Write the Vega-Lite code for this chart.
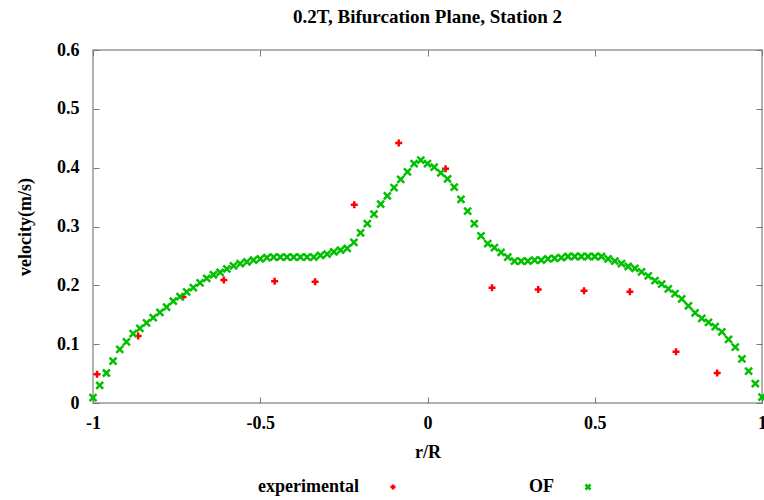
{
  "$schema": "https://vega.github.io/schema/vega-lite/v6.json",
  "width": 669,
  "height": 353,
  "autosize": {"type": "none"},
  "padding": {"left": 93, "top": 50, "right": 2, "bottom": 97},
  "background": "white",
  "title": {"text": "0.2T, Bifurcation Plane, Station 2", "fontSize": 19, "font": "Liberation Serif", "fontWeight": "bold", "color": "black", "offset": 14},
  "config": {
    "font": "Liberation Serif",
    "view": {"stroke": "#999999", "strokeWidth": 1.5},
    "axis": {"grid": false, "domain": false, "labelFlush": false, "tickColor": "#777777", "tickSize": -6, "labelFont": "Liberation Serif", "labelFontWeight": "bold", "labelFontSize": 18, "labelColor": "black", "titleFont": "Liberation Serif", "titleFontWeight": "bold", "titleFontSize": 18, "titleColor": "black"}
  },
  "data": {"values": [
    {"s":"experimental","r":-0.988,"v":0.049},{"s":"experimental","r":-0.865,"v":0.114},{"s":"experimental","r":-0.731,"v":0.180},{"s":"experimental","r":-0.609,"v":0.209},{"s":"experimental","r":-0.457,"v":0.207},{"s":"experimental","r":-0.336,"v":0.206},{"s":"experimental","r":-0.219,"v":0.337},{"s":"experimental","r":-0.086,"v":0.442},{"s":"experimental","r":0.054,"v":0.398},{"s":"experimental","r":0.193,"v":0.196},{"s":"experimental","r":0.331,"v":0.193},{"s":"experimental","r":0.468,"v":0.191},{"s":"experimental","r":0.605,"v":0.189},{"s":"experimental","r":0.743,"v":0.087},{"s":"experimental","r":0.866,"v":0.051},
    {"s":"OF","r":-1.00,"v":0.009},{"s":"OF","r":-0.98,"v":0.030},{"s":"OF","r":-0.96,"v":0.051},{"s":"OF","r":-0.94,"v":0.071},{"s":"OF","r":-0.92,"v":0.091},{"s":"OF","r":-0.90,"v":0.104},{"s":"OF","r":-0.88,"v":0.118},{"s":"OF","r":-0.86,"v":0.127},{"s":"OF","r":-0.84,"v":0.136},{"s":"OF","r":-0.82,"v":0.145},{"s":"OF","r":-0.80,"v":0.154},{"s":"OF","r":-0.78,"v":0.163},{"s":"OF","r":-0.76,"v":0.173},{"s":"OF","r":-0.74,"v":0.181},{"s":"OF","r":-0.72,"v":0.189},{"s":"OF","r":-0.70,"v":0.196},{"s":"OF","r":-0.68,"v":0.204},{"s":"OF","r":-0.66,"v":0.212},{"s":"OF","r":-0.64,"v":0.218},{"s":"OF","r":-0.62,"v":0.222},{"s":"OF","r":-0.60,"v":0.228},{"s":"OF","r":-0.58,"v":0.233},{"s":"OF","r":-0.56,"v":0.237},{"s":"OF","r":-0.54,"v":0.240},{"s":"OF","r":-0.52,"v":0.243},{"s":"OF","r":-0.50,"v":0.245},{"s":"OF","r":-0.48,"v":0.247},{"s":"OF","r":-0.46,"v":0.248},{"s":"OF","r":-0.44,"v":0.248},{"s":"OF","r":-0.42,"v":0.248},{"s":"OF","r":-0.40,"v":0.248},{"s":"OF","r":-0.38,"v":0.248},{"s":"OF","r":-0.36,"v":0.248},{"s":"OF","r":-0.34,"v":0.248},{"s":"OF","r":-0.32,"v":0.251},{"s":"OF","r":-0.30,"v":0.253},{"s":"OF","r":-0.28,"v":0.257},{"s":"OF","r":-0.26,"v":0.260},{"s":"OF","r":-0.24,"v":0.263},{"s":"OF","r":-0.22,"v":0.273},{"s":"OF","r":-0.20,"v":0.289},{"s":"OF","r":-0.18,"v":0.305},{"s":"OF","r":-0.16,"v":0.321},{"s":"OF","r":-0.14,"v":0.338},{"s":"OF","r":-0.12,"v":0.352},{"s":"OF","r":-0.10,"v":0.366},{"s":"OF","r":-0.08,"v":0.380},{"s":"OF","r":-0.06,"v":0.393},{"s":"OF","r":-0.04,"v":0.407},{"s":"OF","r":-0.02,"v":0.413},{"s":"OF","r":0.00,"v":0.407},{"s":"OF","r":0.02,"v":0.401},{"s":"OF","r":0.04,"v":0.391},{"s":"OF","r":0.06,"v":0.381},{"s":"OF","r":0.08,"v":0.367},{"s":"OF","r":0.10,"v":0.346},{"s":"OF","r":0.12,"v":0.326},{"s":"OF","r":0.14,"v":0.305},{"s":"OF","r":0.16,"v":0.284},{"s":"OF","r":0.18,"v":0.271},{"s":"OF","r":0.20,"v":0.264},{"s":"OF","r":0.22,"v":0.256},{"s":"OF","r":0.24,"v":0.248},{"s":"OF","r":0.26,"v":0.241},{"s":"OF","r":0.28,"v":0.241},{"s":"OF","r":0.30,"v":0.241},{"s":"OF","r":0.32,"v":0.243},{"s":"OF","r":0.34,"v":0.243},{"s":"OF","r":0.36,"v":0.245},{"s":"OF","r":0.38,"v":0.246},{"s":"OF","r":0.40,"v":0.247},{"s":"OF","r":0.42,"v":0.249},{"s":"OF","r":0.44,"v":0.249},{"s":"OF","r":0.46,"v":0.249},{"s":"OF","r":0.48,"v":0.249},{"s":"OF","r":0.50,"v":0.249},{"s":"OF","r":0.52,"v":0.249},{"s":"OF","r":0.54,"v":0.245},{"s":"OF","r":0.56,"v":0.241},{"s":"OF","r":0.58,"v":0.237},{"s":"OF","r":0.60,"v":0.232},{"s":"OF","r":0.62,"v":0.229},{"s":"OF","r":0.64,"v":0.223},{"s":"OF","r":0.66,"v":0.216},{"s":"OF","r":0.68,"v":0.208},{"s":"OF","r":0.70,"v":0.202},{"s":"OF","r":0.72,"v":0.194},{"s":"OF","r":0.74,"v":0.186},{"s":"OF","r":0.76,"v":0.177},{"s":"OF","r":0.78,"v":0.165},{"s":"OF","r":0.80,"v":0.153},{"s":"OF","r":0.82,"v":0.144},{"s":"OF","r":0.84,"v":0.137},{"s":"OF","r":0.86,"v":0.130},{"s":"OF","r":0.88,"v":0.121},{"s":"OF","r":0.90,"v":0.108},{"s":"OF","r":0.92,"v":0.095},{"s":"OF","r":0.94,"v":0.075},{"s":"OF","r":0.96,"v":0.054},{"s":"OF","r":0.98,"v":0.033},{"s":"OF","r":1.00,"v":0.010}
  ]},
  "layer": [
    {
      "mark": {"type": "point", "filled": false, "strokeWidth": 2.5, "size": 49, "opacity": 1, "clip": false},
      "encoding": {
        "x": {"field": "r", "type": "quantitative", "scale": {"domain": [-1, 1], "nice": false, "zero": false}, "axis": {"orient": "bottom", "title": "r/R", "values": [-1, -0.5, 0, 0.5, 1], "labelExpr": "'' + datum.value", "labelPadding": 17, "titlePadding": 11}},
        "y": {"field": "v", "type": "quantitative", "scale": {"domain": [0, 0.6], "nice": false}, "axis": {"orient": "left", "title": "velocity(m/s)", "values": [0, 0.1, 0.2, 0.3, 0.4, 0.5, 0.6], "labelExpr": "'' + datum.value", "labelPadding": 20, "titlePadding": 22}},
        "color": {"field": "s", "type": "nominal", "scale": {"domain": ["experimental", "OF"], "range": ["#ff0000", "#00c000"]}, "legend": {"orient": "none", "legendX": 291, "legendY": 428, "direction": "horizontal", "title": null, "labelFont": "Liberation Serif", "labelFontWeight": "bold", "labelFontSize": 18, "labelColor": "black", "labelAlign": "right", "labelOffset": -43, "symbolSize": 25, "symbolStrokeWidth": 2.5, "columnPadding": 128}},
        "shape": {"field": "s", "type": "nominal", "scale": {"domain": ["experimental", "OF"], "range": ["M-1,0L1,0M0,-1L0,1", "M-1,-1L1,1M1,-1L-1,1"]}}
      }
    },
    {
      "mark": {"type": "point", "opacity": 0},
      "encoding": {
        "x": {"field": "r", "type": "quantitative", "axis": {"orient": "top", "title": null, "labels": false, "values": [-1, -0.5, 0, 0.5, 1]}},
        "y": {"field": "v", "type": "quantitative", "axis": {"orient": "right", "title": null, "labels": false, "values": [0, 0.1, 0.2, 0.3, 0.4, 0.5, 0.6]}}
      }
    }
  ],
  "resolve": {"axis": {"x": "independent", "y": "independent"}}
}
